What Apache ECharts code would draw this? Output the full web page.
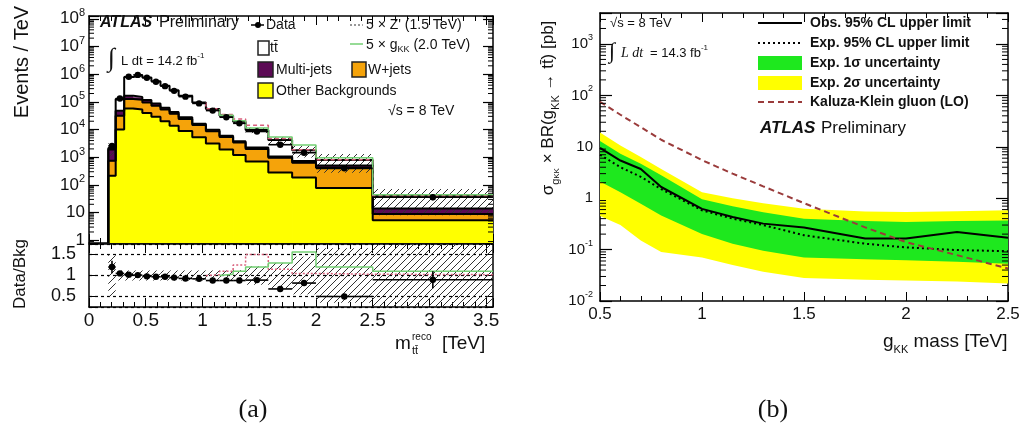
<!DOCTYPE html>
<html>
<head>
<meta charset="utf-8">
<title>ttbar resonance search</title>
<script src="https://cdn.jsdelivr.net/npm/echarts@6.0.0/dist/echarts.min.js"></script>
<style>
html, body { margin: 0; padding: 0; background: #fff; }
#chart { width: 1022px; height: 437px; }
</style>
</head>
<body>
<div id="chart"></div>
<script>
// ---------- (a) reconstructed m_tt spectrum, events / TeV ----------
const binEdges   = [0.17, 0.235, 0.31, 0.39, 0.47, 0.55, 0.63, 0.71, 0.79, 0.91, 1.03, 1.15, 1.27, 1.38, 1.58, 1.79, 2.0, 2.5, 3.56];
const otherBkg   = [214, 10000, 57500, 52500, 39800, 28800, 20000, 13800, 8900, 5250, 3160, 1905, 1200, 708, 282, 186, 77.6, 5.25];
const wJets      = [527, 21600, 68400, 67700, 55700, 43600, 32500, 23400, 15100, 9200, 5550, 3465, 2190, 1287, 673, 445, 339, 3.66];
const multiJets  = [1164, 16200, 40100, 31100, 22000, 14700, 9200, 5500, 3550, 1760, 1060, 656, 414, 244, 117, 93, 84, 5.2];
const ttbar      = [233, 78000, 628400, 781900, 641100, 462400, 318500, 220400, 138400, 79300, 45200, 25600, 15250, 7310, 3097, 1054, 293, 25.7];
const dataCounts = [2570, 132100, 810300, 942500, 743400, 533000, 368800, 249900, 154300, 87870, 48370, 27830, 16770, 8500, 2835, 1458, 397, 35.8];
const dataErr    = [320, 1300, 3000, 3500, 3000, 2500, 2000, 1600, 1200, 900, 600, 450, 330, 250, 110, 75, 25, 8];
const bkgRelUnc  = [0.5, 0.12, 0.12, 0.12, 0.12, 0.12, 0.12, 0.12, 0.12, 0.12, 0.12, 0.12, 0.13, 0.22, 0.3, 0.45, 0.65, 0.8];
const zprime5x   = [0, 0, 0, 0, 0, 0, 0, 0, 0, 0, 1100, 3160, 4750, 4775, 625, 89, 24, 0.8];
const gkk5x      = [0, 0, 0, 0, 0, 0, 0, 0, 0, 0, 0, 950, 1900, 1910, 1250, 996, 159, 4];

// ---------- (b) cross-section limits vs g_KK mass, pb ----------
const massPoints = [0.5, 0.6, 0.7, 0.8, 1.0, 1.15, 1.3, 1.5, 1.8, 2.0, 2.25, 2.5];
const obsLimit   = [9.5, 5.4, 3.7, 1.65, 0.62, 0.43, 0.32, 0.27, 0.165, 0.165, 0.22, 0.17];
const expLimit   = [7.0, 4.0, 2.6, 1.5, 0.58, 0.4, 0.3, 0.19, 0.13, 0.11, 0.098, 0.093];
const exp2SigUp  = [19, 10.6, 6.3, 3.7, 1.3, 1.0, 0.8, 0.62, 0.55, 0.54, 0.56, 0.58];
const exp1SigUp  = [13, 7.3, 4.7, 2.8, 0.95, 0.7, 0.53, 0.4, 0.36, 0.345, 0.36, 0.37];
const exp1SigDn  = [2.1, 1.3, 0.78, 0.46, 0.2, 0.13, 0.095, 0.07, 0.065, 0.062, 0.058, 0.053];
const exp2SigDn  = [0.45, 0.3, 0.15, 0.09, 0.07, 0.05, 0.037, 0.028, 0.026, 0.025, 0.024, 0.022];
const kkTheory   = [75, 42, 24, 13.7, 5.5, 3.0, 1.7, 0.8, 0.27, 0.14, 0.078, 0.043];

// axis extents
const A_XMAX = 3.56, A_YMIN = 0.8, A_YMAX = 1.26e8;
const R_YMIN = 0.25, R_YMAX = 1.75;
const B_XMIN = 0.5, B_XMAX = 2.5, B_YMIN = 0.01, B_YMAX = 4000;

const FONT = '"Liberation Sans", Arial, Helvetica, sans-serif';
const SERIF = '"Liberation Serif", "DejaVu Serif", serif';

const nBins = binEdges.length - 1;
const cumOther = otherBkg.slice();
const cumW = cumOther.map((v, i) => v + wJets[i]);
const cumMJ = cumW.map((v, i) => v + multiJets[i]);
const cumTot = cumMJ.map((v, i) => v + ttbar[i]);
const floorArr = cumTot.map(() => A_YMIN);

// diagonal hatching for the background uncertainty
const hatch = document.createElement('canvas');
hatch.width = 7; hatch.height = 7;
(function () {
  const c = hatch.getContext('2d');
  c.strokeStyle = '#333'; c.lineWidth = 1;
  c.beginPath();
  c.moveTo(0, 7); c.lineTo(7, 0);
  c.moveTo(-1, 1); c.lineTo(1, -1);
  c.moveTo(6, 8); c.lineTo(8, 6);
  c.stroke();
})();
const hatchFill = { image: hatch, repeat: 'repeat' };

// one rectangle per bin; solid fills overlap their neighbour slightly so no seams show
function binRects(lower, upper, style, xi, yi, z, overlap) {
  const pad = overlap ? 0.8 : 0;
  return {
    type: 'custom', xAxisIndex: xi, yAxisIndex: yi, clip: true, silent: true, z: z || 2,
    encode: { x: [0, 1], y: [2, 3] },
    data: upper.map((u, i) => [binEdges[i], binEdges[i + 1], lower[i], u]),
    renderItem(params, api) {
      const a = api.coord([api.value(0), api.value(3)]);
      const b = api.coord([api.value(1), api.value(2)]);
      return { type: 'rect', shape: { x: a[0], y: a[1], width: b[0] - a[0] + pad, height: b[1] - a[1] + pad * 0.5 },
        style: Object.assign({}, style) };
    }
  };
}

function stepLine(vals, start, base, xi, yi, lineStyle, z) {
  const pts = [[binEdges[start], base]];
  for (let i = start; i < nBins; i++) pts.push([binEdges[i], vals[i]]);
  pts.push([binEdges[nBins], vals[nBins - 1]]);
  return {
    type: 'line', xAxisIndex: xi, yAxisIndex: yi, step: 'end', data: pts, symbol: 'none',
    silent: true, z: z || 4, lineStyle: lineStyle, clip: true
  };
}

function dataPoints(vals, errs, xi, yi, lo, hi) {
  return {
    type: 'custom', xAxisIndex: xi, yAxisIndex: yi, clip: true, silent: true, z: 8,
    encode: { x: [0, 1], y: 2 },
    data: vals.map((v, i) => [binEdges[i], binEdges[i + 1], v, errs[i]]),
    renderItem(params, api) {
      const x0 = api.value(0), x1 = api.value(1), y = api.value(2), e = api.value(3);
      const xc = (x0 + x1) / 2;
      const pL = api.coord([x0, y]), pR = api.coord([x1, y]);
      const pB = api.coord([xc, Math.max(y - e, lo)]), pT = api.coord([xc, Math.min(y + e, hi)]);
      const pc = api.coord([xc, y]);
      const ln = { stroke: '#000', lineWidth: 1.6 };
      return {
        type: 'group', children: [
          { type: 'line', shape: { x1: pL[0], y1: pL[1], x2: pR[0], y2: pR[1] }, style: ln },
          { type: 'line', shape: { x1: pB[0], y1: pB[1], x2: pT[0], y2: pT[1] }, style: ln },
          { type: 'circle', shape: { cx: pc[0], cy: pc[1], r: 3.2 }, style: { fill: '#000' } }
        ]
      };
    }
  };
}

function logMinorValues(lo, hi) {
  const out = [];
  for (let e = Math.floor(Math.log10(lo)); e <= Math.ceil(Math.log10(hi)); e++) {
    for (let k = 2; k <= 9; k++) {
      const v = k * Math.pow(10, e);
      if (v > lo && v < hi) out.push(v);
    }
  }
  return out;
}

function logMinorTicks(lo, hi, xmin, xmax, xi, yi, len) {
  return {
    type: 'custom', xAxisIndex: xi, yAxisIndex: yi, silent: true, z: 20, clip: false,
    encode: { x: 0, y: 1 },
    data: logMinorValues(lo, hi).map(v => [xmin, v]),
    renderItem(params, api) {
      const v = api.value(1);
      const a = api.coord([xmin, v]), b = api.coord([xmax, v]);
      const st = { stroke: '#000', lineWidth: 1 };
      return {
        type: 'group', children: [
          { type: 'line', shape: { x1: a[0], y1: a[1], x2: a[0] + len, y2: a[1] }, style: st },
          { type: 'line', shape: { x1: b[0], y1: b[1], x2: b[0] - len, y2: b[1] }, style: st }
        ]
      };
    }
  };
}

function bandSeries(upper, lower, color) {
  return {
    type: 'custom', xAxisIndex: 4, yAxisIndex: 4, clip: true, silent: true, z: 2,
    encode: { x: 0, y: 1 },
    data: [[massPoints[0], upper[0]]],
    renderItem(params, api) {
      const pts = [];
      massPoints.forEach((m, i) => pts.push(api.coord([m, upper[i]])));
      for (let i = massPoints.length - 1; i >= 0; i--) pts.push(api.coord([massPoints[i], lower[i]]));
      return { type: 'polygon', shape: { points: pts }, style: { fill: color } };
    }
  };
}

function powLabel(v) {
  const e = Math.log10(v), r = Math.round(e);
  if (Math.abs(e - r) > 1e-6) return '';
  if (r === 0) return '1';
  if (r === 1) return '10';
  return '10{sup|' + r + '}';
}

const axLine = { show: true, onZero: false, lineStyle: { color: '#000', width: 1.5 } };

function xAxisDef(grid, pos, min, max, labels, fontSize, margin) {
  return {
    type: 'value', gridIndex: grid, position: pos, min: min, max: max, interval: 0.5,
    axisLine: axLine,
    axisTick: { show: true, inside: true, length: 9, lineStyle: { color: '#000', width: 1 } },
    minorTick: { show: true, splitNumber: 5, length: 5, lineStyle: { color: '#000', width: 1 } },
    splitLine: { show: false }, minorSplitLine: { show: false },
    axisLabel: labels ? {
      show: true, color: '#111', fontFamily: FONT, fontSize: fontSize, margin: margin,
      showMaxLabel: true, showMinLabel: true,
      formatter: v => (Math.abs(v * 2 - Math.round(v * 2)) < 1e-6 ? String(+v.toFixed(1)) : '')
    } : { show: false }
  };
}

function logYAxisDef(grid, pos, min, max, labels, fontSize, margin, tickLen) {
  return {
    type: 'log', logBase: 10, gridIndex: grid, position: pos, min: min, max: max,
    axisLine: axLine,
    axisTick: { show: true, inside: true, length: tickLen, lineStyle: { color: '#000', width: 1.2 } },
    minorTick: { show: false },
    splitLine: { show: false },
    axisLabel: labels ? {
      show: true, color: '#111', fontFamily: FONT, fontSize: fontSize, margin: margin, lineHeight: 22,
      formatter: powLabel,
      rich: { sup: { fontSize: Math.round(fontSize * 0.62), fontFamily: FONT, color: '#111', verticalAlign: 'top', lineHeight: 22 } }
    } : { show: false }
  };
}

function ratioYAxisDef(pos, labels) {
  return {
    type: 'value', gridIndex: 1, position: pos, min: R_YMIN, max: R_YMAX, splitNumber: 3,
    axisLine: axLine,
    axisTick: { show: true, inside: true, length: 8, lineStyle: { color: '#000', width: 1 } },
    minorTick: { show: false },
    splitLine: labels ? { show: true, lineStyle: { color: '#000', width: 1.2, type: [3, 3] } } : { show: false },
    axisLabel: labels ? {
      show: true, color: '#111', fontFamily: FONT, fontSize: 18, margin: 13,
      formatter: v => ([0.5, 1, 1.5].some(t => Math.abs(t - v) < 1e-6) ? String(v) : '')
    } : { show: false }
  };
}

// ratio-panel quantities, all derived from the event counts above
const ratioVals = dataCounts.map((d, i) => d / cumTot[i]);
const ratioErrs = dataErr.map((e, i) => e / cumTot[i]);
const ratioBandLo = bkgRelUnc.map(u => Math.max(1 - u, R_YMIN));
const ratioBandHi = bkgRelUnc.map(u => Math.min(1 + u, R_YMAX));
const bandLoA = cumTot.map((t, i) => Math.max(t * (1 - bkgRelUnc[i]), A_YMIN));
const bandHiA = cumTot.map((t, i) => t * (1 + bkgRelUnc[i]));
const firstNonZero = arr => arr.findIndex(v => v > 0);
const zStart = firstNonZero(zprime5x), gStart = firstNonZero(gkk5x);
const zTotal = cumTot.map((t, i) => t + zprime5x[i]);
const gTotal = cumTot.map((t, i) => t + gkk5x[i]);
const zRatio = zTotal.map((t, i) => t / cumTot[i]);
const gRatio = gTotal.map((t, i) => t / cumTot[i]);

const Z_COLOR = '#d9607c', G_COLOR = '#73cf73';
const BLACK2 = { color: '#000', width: 2 };

const series = [
  // (a) stacked backgrounds
  binRects(floorArr, cumOther, { fill: '#ffff00' }, 0, 0, 2, true),
  binRects(cumOther, cumW, { fill: '#f5a30a' }, 0, 0, 2, true),
  binRects(cumW, cumMJ, { fill: '#5c0a55' }, 0, 0, 2, true),
  binRects(cumMJ, cumTot, { fill: '#ffffff' }, 0, 0, 2, true),
  binRects(bandLoA, bandHiA, { fill: hatchFill }, 0, 0, 3),
  stepLine(cumOther, 0, A_YMIN, 0, 0, BLACK2),
  stepLine(cumW, 0, A_YMIN, 0, 0, BLACK2),
  stepLine(cumMJ, 0, A_YMIN, 0, 0, BLACK2),
  stepLine(cumTot, 0, A_YMIN, 0, 0, BLACK2),
  stepLine(zTotal, zStart, cumTot[zStart - 1], 0, 0, { color: Z_COLOR, width: 1.5, type: [4, 3] }, 5),
  stepLine(gTotal, gStart, cumTot[gStart - 1], 0, 0, { color: G_COLOR, width: 1.5 }, 5),
  dataPoints(dataCounts, dataErr, 0, 0, A_YMIN, A_YMAX),
  logMinorTicks(A_YMIN, A_YMAX, 0, A_XMAX, 0, 0, 5),

  // (a) data / background ratio
  binRects(ratioBandLo, ratioBandHi, { fill: hatchFill }, 2, 2, 3),
  stepLine(zRatio, zStart, 1, 2, 2, { color: Z_COLOR, width: 1.5, type: [2, 2] }, 5),
  stepLine(gRatio, gStart, 1, 2, 2, { color: G_COLOR, width: 1.5 }, 5),
  dataPoints(ratioVals, ratioErrs, 2, 2, R_YMIN, R_YMAX),

  // (b) limits
  bandSeries(exp2SigUp, exp2SigDn, '#ffff00'),
  bandSeries(exp1SigUp, exp1SigDn, '#1ee81e'),
  {
    type: 'line', xAxisIndex: 4, yAxisIndex: 4, symbol: 'none', silent: true, z: 5,
    data: massPoints.map((m, i) => [m, expLimit[i]]),
    lineStyle: { color: '#000', width: 2, type: [2, 3] }
  },
  {
    type: 'line', xAxisIndex: 4, yAxisIndex: 4, symbol: 'none', silent: true, z: 6,
    data: massPoints.map((m, i) => [m, obsLimit[i]]),
    lineStyle: { color: '#000', width: 2 }
  },
  {
    type: 'line', xAxisIndex: 4, yAxisIndex: 4, symbol: 'none', silent: true, z: 6,
    data: massPoints.map((m, i) => [m, kkTheory[i]]),
    lineStyle: { color: '#9a3b3b', width: 2, type: [6, 4] }
  },
  logMinorTicks(B_YMIN, B_YMAX, B_XMIN, B_XMAX, 4, 4, 6)
];

// ---------- text, legends and titles ----------
const graphics = [];
function txt(x, y, text, style, extra) {
  graphics.push(Object.assign({
    type: 'text', x: x, y: y, silent: true, z: 100,
    style: Object.assign({ text: text, fill: '#111', fontFamily: FONT, fontSize: 14, align: 'left', verticalAlign: 'middle' }, style || {})
  }, extra || {}));
}
function box(x, y, w, h, fill, stroke) {
  graphics.push({ type: 'rect', silent: true, z: 100, shape: { x: x, y: y, width: w, height: h },
    style: { fill: fill, stroke: stroke || null, lineWidth: stroke ? 1.5 : 0 } });
}
function seg(x1, y1, x2, y2, color, width, dash) {
  graphics.push({ type: 'line', silent: true, z: 100, shape: { x1: x1, y1: y1, x2: x2, y2: y2 },
    style: { stroke: color, lineWidth: width, lineDash: dash || null } });
}
const supRich = size => ({ fontSize: size, fontFamily: FONT, fill: '#111', verticalAlign: 'top', lineHeight: 18 });

// panel (a) axis titles
txt(22, 62, 'Events / TeV', { fontSize: 20, align: 'center' }, { rotation: Math.PI / 2 });
txt(20, 274, 'Data/Bkg', { fontSize: 17, align: 'center' }, { rotation: Math.PI / 2 });
txt(395, 344, 'm', { fontSize: 19 });
txt(412, 337, 'reco', { fontSize: 10 });
txt(412, 351, 'tt\u0304', { fontSize: 11 });
txt(442, 344, '[TeV]', { fontSize: 19 });

// panel (a) labels and legend
txt(100, 23, 'ATLAS', { fontSize: 16, fontWeight: 'bold', fontStyle: 'italic' });
txt(159, 23, 'Preliminary', { fontSize: 16 });
txt(108, 59, '\u222B', { fontSize: 26, fontFamily: SERIF });
txt(121, 61, 'L dt = 14.2 fb{sup|-1}', { fontSize: 13, lineHeight: 18, rich: { sup: supRich(8) } });
seg(251, 25, 264, 25, '#000', 1.5);
graphics.push({ type: 'circle', silent: true, z: 100, shape: { cx: 258, cy: 25, r: 3 }, style: { fill: '#000' } });
txt(266, 25, 'Data', { fontSize: 14 });
seg(350, 25, 363, 25, '#555', 1.2, [2, 2]);
txt(366, 25, "5 \u00D7 Z' (1.5 TeV)", { fontSize: 14 });
box(258, 41, 11, 14, '#fff', '#222');
txt(270, 48, 'tt\u0304', { fontSize: 14 });
seg(350, 44, 363, 44, G_COLOR, 1.5);
txt(366, 45, '5 \u00D7 g{sub|KK} (2.0 TeV)', { fontSize: 14, lineHeight: 18,
  rich: { sub: { fontSize: 9, fontFamily: FONT, fill: '#111', verticalAlign: 'bottom', lineHeight: 18 } } });
box(258, 62, 15, 15, '#5c0a55', '#222');
txt(276, 70, 'Multi-jets', { fontSize: 14 });
box(352, 62, 14, 15, '#f5a30a', '#222');
txt(368, 70, 'W+jets', { fontSize: 14 });
box(258, 83, 15, 15, '#ffff00', '#222');
txt(276, 91, 'Other Backgrounds', { fontSize: 14 });
txt(388, 111, '\u221As = 8 TeV', { fontSize: 14 });

// panel (b) axis titles
txt(548, 108, '\u03C3{sub|g}{subsub|KK} \u00D7 BR(g{sub|KK} \u2192 tt\u0304) [pb]',
  { fontSize: 17, align: 'center', lineHeight: 24,
    rich: {
      sub: { fontSize: 11, fontFamily: FONT, fill: '#111', verticalAlign: 'bottom', lineHeight: 24 },
      subsub: { fontSize: 8, fontFamily: FONT, fill: '#111', verticalAlign: 'bottom', lineHeight: 26 }
    } },
  { rotation: Math.PI / 2 });
txt(883, 342, 'g{sub|KK} mass [TeV]', { fontSize: 19, lineHeight: 24,
  rich: { sub: { fontSize: 11, fontFamily: FONT, fill: '#111', verticalAlign: 'bottom', lineHeight: 26 } } });

// panel (b) labels and legend
txt(610, 23, '\u221As = 8 TeV', { fontSize: 13 });
txt(609, 52, '\u222B', { fontSize: 22, fontFamily: SERIF });
txt(621, 53, 'L dt', { fontSize: 14, fontFamily: SERIF, fontStyle: 'italic' });
txt(650, 53, '= 14.3 fb{sup|-1}', { fontSize: 13, lineHeight: 18, rich: { sup: supRich(8) } });
seg(758, 23, 802, 23, '#000', 2);
txt(810, 23, 'Obs. 95% CL upper limit', { fontSize: 14, fontWeight: 'bold' });
seg(758, 43, 802, 43, '#000', 2, [2, 3]);
txt(810, 43, 'Exp. 95% CL upper limit', { fontSize: 14, fontWeight: 'bold' });
box(758, 56, 44, 14, '#1ee81e');
txt(810, 63, 'Exp. 1\u03C3 uncertainty', { fontSize: 14, fontWeight: 'bold' });
box(758, 76, 44, 14, '#ffff00');
txt(810, 83, 'Exp. 2\u03C3 uncertainty', { fontSize: 14, fontWeight: 'bold' });
seg(758, 102, 802, 102, '#9a3b3b', 2, [6, 4]);
txt(810, 102, 'Kaluza-Klein gluon (LO)', { fontSize: 14, fontWeight: 'bold' });
txt(760, 128, 'ATLAS', { fontSize: 17, fontWeight: 'bold', fontStyle: 'italic' });
txt(821, 128, 'Preliminary', { fontSize: 17 });

// sub-figure captions
txt(253, 410, '(a)', { fontSize: 26, fontFamily: SERIF, align: 'center' });
txt(773, 410, '(b)', { fontSize: 26, fontFamily: SERIF, align: 'center' });

const option = {
  animation: false,
  backgroundColor: '#fff',
  textStyle: { fontFamily: FONT },
  grid: [
    { left: 89, top: 16, width: 404, height: 227, outerBoundsMode: 'none', containLabel: false },
    { left: 89, top: 244, width: 404, height: 63, outerBoundsMode: 'none', containLabel: false },
    { left: 600, top: 13, width: 408, height: 288, outerBoundsMode: 'none', containLabel: false }
  ],
  xAxis: [
    xAxisDef(0, 'bottom', 0, A_XMAX, false),
    xAxisDef(0, 'top', 0, A_XMAX, false),
    xAxisDef(1, 'bottom', 0, A_XMAX, true, 19, 4),
    xAxisDef(1, 'top', 0, A_XMAX, false),
    xAxisDef(2, 'bottom', B_XMIN, B_XMAX, true, 17, 5),
    xAxisDef(2, 'top', B_XMIN, B_XMAX, false)
  ],
  yAxis: [
    logYAxisDef(0, 'left', A_YMIN, A_YMAX, true, 17, 4, 10),
    logYAxisDef(0, 'right', A_YMIN, A_YMAX, false, 17, 4, 10),
    ratioYAxisDef('left', true),
    ratioYAxisDef('right', false),
    logYAxisDef(2, 'left', B_YMIN, B_YMAX, true, 15, 7, 12),
    logYAxisDef(2, 'right', B_YMIN, B_YMAX, false, 15, 7, 12)
  ],
  series: series,
  graphic: graphics
};

const chart = echarts.init(document.getElementById('chart'), null, { renderer: 'canvas' });
chart.setOption(option);
</script>
</body>
</html>
